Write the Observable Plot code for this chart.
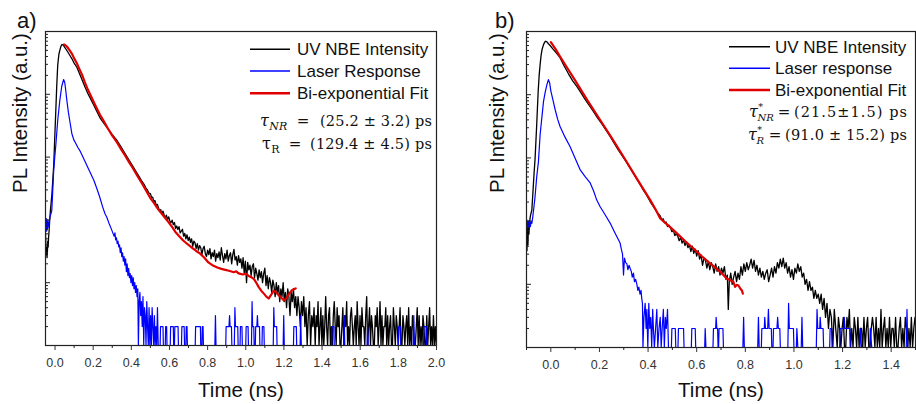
<!DOCTYPE html>
<html><head><meta charset="utf-8">
<script src="https://cdn.jsdelivr.net/npm/d3@7"></script>
<script src="https://cdn.jsdelivr.net/npm/@observablehq/plot@0.6"></script>
<style>
body{margin:0;background:#fff}
#wrap{position:relative;width:916px;height:404px;overflow:hidden;background:#fff}
.pan{position:absolute;top:0}
#ov{position:absolute;left:0;top:0;pointer-events:none}
</style></head>
<body><div id="wrap"><div id="pa" class="pan" style="left:0"></div><div id="pb" class="pan" style="left:460px"></div><svg id="ov" width="916" height="404"></svg></div>
<script>
// ---------- DATA (time in ns, PL counts) ----------
const uvA = [[-0.050,62],[-0.048,40],[-0.046,28],[-0.044,36],[-0.042,25],[-0.040,31],[-0.038,46],[-0.036,37],[-0.034,52],[-0.031,68],[-0.028,98],[-0.024,145],[-0.020,195],[-0.017,245],[-0.012,420],[-0.007,735],[-0.002,1840],[0.004,5500],[0.009,13800],[0.014,28800],[0.020,43000],[0.025,50000],[0.030,57000],[0.036,62000],[0.042,61000],[0.050,56500],[0.062,49800],[0.075,43000],[0.088,37100],[0.101,31000],[0.115,26700],[0.128,21500],[0.141,17200],[0.156,13300],[0.172,10300],[0.188,8300],[0.204,6630],[0.220,5300],[0.235,4270],[0.256,3450],[0.277,2850],[0.300,2280],[0.325,1840],[0.346,1450],[0.367,1140],[0.388,900],[0.409,708],[0.420,620],[0.432,540],[0.444,470],[0.456,409],[0.466,372],[0.476,325],[0.484,300],[0.492,268],
[0.500,262],[0.506,229],[0.512,231],[0.518,196],[0.524,203],[0.530,171],[0.536,177],[0.542,158],[0.548,139],[0.554,146],[0.560,125],[0.566,138],[0.572,121],[0.578,109],[0.584,119],[0.590,101],[0.596,112],[0.602,96],[0.608,90],[0.614,99],[0.620,84],[0.626,91],[0.632,73],[0.638,80],[0.644,70],[0.650,78],[0.656,62],[0.662,66],[0.668,71],[0.674,55],[0.680,61],[0.686,50],[0.692,58],[0.698,47],[0.704,53],[0.710,44],[0.716,50],[0.722,38],[0.728,46],[0.734,43],[0.740,35],[0.746,42],[0.752,33],[0.758,39],[0.764,36],[0.770,28],[0.776,35],[0.782,38],[0.788,29],[0.794,26],[0.800,33],[0.806,28],[0.812,35],[0.818,24],[0.824,30],[0.830,26],[0.836,33],[0.842,22],[0.848,29],[0.854,25],[0.860,31],[0.866,23],[0.872,36],[0.878,27],[0.884,21],[0.890,29],[0.896,24],[0.902,33],[0.908,22],[0.914,27],[0.920,30],[0.926,20],[0.932,28],[0.938,34],[0.944,23],[0.950,26],[0.956,19],[0.962,27],[0.968,21],[0.974,24],[0.980,17],[0.986,25],[0.992,14],[0.998,22],[1.004,10],[1.010,21],[1.016,16],[1.022,19],[1.028,13],[1.034,18],[1.040,20],[1.046,12],[1.052,17],[1.058,14],[1.064,11],[1.070,16],[1.076,12],[1.082,15],[1.088,10],[1.094,14],[1.100,17],[1.106,9],[1.112,13],[1.118,8],[1.124,12],[1.130,10],[1.136,7],[1.142,11],[1.148,9],[1.154,6],[1.160,10],[1.166,7],[1.172,9],[1.178,5],[1.184,8],[1.190,6],[1.196,10],[1.202,5],[1.208,7],[1.214,4],[1.220,8],[1.226,6],[1.232,3],[1.238,7],[1.244,5],[1.250,8],[1.256,4],[1.262,6],[1.268,3],[1.274,6],[1.280,4],[1.286,2],[1.292,5],[1.298,3],[1.304,6],[1.310,2],[1.316,4],[1.322,1],[1.328,3],[1.334,5],[1.340,1],[1.346,3],[1.352,2],[1.358,4],
[1.364,1],[1.369,3],[1.374,2],[1.379,5],[1.384,1],[1.389,2],[1.394,4],[1.399,1],[1.404,3],[1.409,1],[1.414,2],[1.419,6],[1.424,2],[1.429,1],[1.434,3],[1.439,4],[1.444,1],[1.449,2],[1.454,1],[1.459,3],[1.464,5],[1.469,2],[1.474,1],[1.479,4],[1.484,2],[1.489,3],[1.494,1],[1.499,1],[1.504,2],[1.509,4],[1.514,1],[1.519,3],[1.524,2],[1.529,5],[1.534,1],[1.539,2],[1.544,1],[1.549,3],[1.554,4],[1.559,2],[1.564,1],[1.569,2],[1.574,3],[1.579,1],[1.584,5],[1.589,2],[1.594,1],[1.599,3],[1.604,1],[1.609,4],[1.614,2],[1.619,2],[1.624,1],[1.629,3],[1.634,6],[1.639,1],[1.644,2],[1.649,4],[1.654,1],[1.659,3],[1.664,2],[1.669,1],[1.674,1],[1.679,3],[1.684,2],[1.689,4],[1.694,1],[1.699,2],[1.704,5],[1.709,1],[1.714,3],[1.719,1],[1.724,2],[1.729,2],[1.734,4],[1.739,1],[1.744,3],[1.749,1],[1.754,2],[1.759,3],[1.764,1],[1.769,1],[1.774,4],[1.779,2],[1.784,1],[1.789,3],[1.794,2],[1.799,1],[1.804,2],[1.809,4],[1.814,1],[1.819,1],[1.824,3],[1.829,2],[1.834,1],[1.839,2],[1.844,3],[1.849,1],[1.854,4],[1.859,1],[1.864,2],[1.869,1],[1.874,3],[1.879,2],[1.884,1],[1.889,1],[1.894,2],[1.899,4],[1.904,1],[1.909,3],[1.914,1],[1.919,2],[1.924,1],[1.929,3],[1.934,2],[1.939,1],[1.944,1],[1.949,3],[1.954,1],[1.959,2],[1.964,4],[1.969,1],[1.974,2],[1.979,1],[1.984,3],[1.989,1],[1.994,2],[1.999,1]];

const laserA = [[-0.050,95],[-0.048,70],[-0.046,105],[-0.044,66],[-0.042,92],[-0.040,72],[-0.038,100],[-0.036,80],[-0.034,90],[-0.032,76],[-0.030,96],[-0.027,110],[-0.024,118],[-0.020,130],[-0.017,141],[-0.012,294],[-0.007,612],[-0.002,950],[0.004,1530],[0.014,3830],[0.025,7960],[0.035,13300],[0.045,17200],[0.051,15400],[0.057,11000],[0.062,7960],[0.070,5200],[0.077,3830],[0.088,2380],[0.098,1900],[0.109,1650],[0.120,1420],[0.130,1270],[0.150,950],[0.172,683],[0.188,540],[0.204,424],[0.220,310],[0.235,227],[0.250,160],[0.262,125],[0.272,109],[0.285,85],[0.295,72],[0.304,61],
[0.310,55],[0.314,62],[0.318,48],[0.322,52],[0.326,42],[0.330,46],[0.334,37],[0.338,40],[0.342,30],[0.346,36],[0.350,26],[0.354,30],[0.358,22],[0.362,26],[0.366,19],[0.370,24],[0.374,15],[0.378,20],[0.382,13],[0.386,17],[0.390,12],[0.394,14],[0.398,10],[0.402,13],[0.406,9],[0.410,12],[0.414,8],[0.418,10],[0.422,7],[0.426,9],[0.430,6],[0.434,8],[0.437,1],[0.441,5],[0.445,7],[0.449,3],[0.453,5],[0.457,2],[0.461,6],[0.465,1],[0.469,4],[0.473,3],[0.477,1],[0.481,5],[0.485,2],[0.489,1],[0.493,4],[0.497,1],[0.501,3],[0.505,1],[0.509,4],[0.513,2],[0.517,1],[0.521,3],[0.525,1],[0.529,2],[0.533,1],[0.537,4],[0.541,1],
[0.551,1],[0.553,2],[0.566,2],[0.568,1],[0.578,1],[0.580,2],[0.585,2],[0.587,1],[0.604,1],[0.606,2],[0.620,2],[0.622,1],[0.626,1],[0.628,2],[0.645,2],[0.647,1],[0.663,1],[0.665,2],[0.677,2],[0.679,1],[0.686,1],[0.688,2],[0.692,2],[0.694,1],[0.735,1],[0.737,2],[0.762,2],[0.764,1],[0.770,1],[0.772,2],[0.776,2],[0.778,1],[0.838,1],[0.841,3],[0.844,1],[0.895,1],[0.897,2],[0.912,2],[0.915,3],[0.918,2],[0.925,2],[0.927,1],[0.940,1],[0.943,4],[0.946,2],[0.958,2],[0.960,1],[0.970,1],[0.972,2],[0.980,2],[0.982,1],[1.000,1],[1.002,2],[1.012,2],[1.014,1],[1.030,1],[1.033,5],[1.036,2],[1.042,2],[1.044,1],[1.050,1],[1.052,2],[1.058,2],[1.061,3],[1.064,2],[1.072,2],[1.074,1],[1.085,1],[1.087,2],[1.095,2],[1.097,1],[1.144,1],[1.147,4],[1.150,2],[1.162,2],[1.164,1],[1.196,1],[1.199,3],[1.202,1],[1.250,1],[1.252,2],[1.265,2],[1.267,1],[1.285,1],[1.288,3],[1.291,1],[1.450,1],[1.452,2],[1.462,2],[1.464,1],[1.513,1],[1.516,3],[1.519,1],[1.636,1],[1.639,2],[1.642,1],[1.800,1],[1.802,2],[1.812,2],[1.814,1],[1.878,1],[1.881,3],[1.884,1],[1.932,1],[1.934,2],[1.946,2],[1.948,1],[2.000,1]];

const fitA = [[0.047,62100],[0.055,60000],[0.062,57700],[0.075,51000],[0.088,44600],[0.101,37000],[0.115,30900],[0.128,25000],[0.141,20700],[0.156,15600],[0.172,11900],[0.188,9400],[0.204,7400],[0.220,5900],[0.235,4770],[0.256,3700],[0.277,2850],[0.300,2200],[0.325,1710],[0.346,1340],[0.367,1060],[0.388,830],[0.409,658],[0.432,500],[0.456,380],[0.477,295],[0.498,227],[0.520,183],[0.541,147],[0.565,120],[0.588,98],[0.610,80],[0.630,65],[0.651,55],[0.672,47],[0.695,41],[0.719,36],[0.740,32],[0.761,29],[0.783,25],[0.804,21],[0.825,19],[0.851,17.5],[0.872,16.6],[0.893,16],[0.912,15.5],[0.937,14.7],[0.950,15.2],[0.960,14.2],[0.972,13.8],[0.985,13.5],[1.000,13.9],[1.015,12.8],[1.030,12.2],[1.042,11.5],[1.055,10],[1.068,8.5],[1.082,7.4],[1.095,6.7],[1.108,6],[1.120,5.6],[1.130,6.2],[1.147,7.5],[1.160,7],[1.175,6.2],[1.190,5.6],[1.200,5.2],[1.212,5.6],[1.225,6.5],[1.240,7.5],[1.252,7.9],[1.262,8.1]];

const uvB = [[-0.100,55],[-0.098,34],[-0.096,80],[-0.094,42],[-0.092,96],[-0.090,62],[-0.087,100],[-0.084,120],[-0.081,135],[-0.078,150],[-0.073,310],[-0.069,560],[-0.065,930],[-0.058,3340],[-0.052,11200],[-0.048,20000],[-0.044,29900],[-0.040,42000],[-0.036,51800],[-0.030,62000],[-0.025,68000],[-0.021,70200],[-0.016,68500],[-0.010,64000],[-0.003,60000],[0.010,52000],[0.024,45000],[0.038,38600],[0.055,28500],[0.072,21600],[0.090,16500],[0.107,13500],[0.125,10600],[0.141,8400],[0.158,6800],[0.175,5430],[0.192,4300],[0.210,3450],[0.227,2750],[0.244,2180],[0.261,1700],[0.278,1330],[0.296,1050],[0.313,833],[0.330,650],[0.347,510],[0.364,400],[0.381,310],[0.395,255],[0.409,202],[0.422,170],[0.436,140],
[0.450,121],[0.456,106],[0.462,109],[0.468,94],[0.474,97],[0.480,82],[0.486,86],[0.492,79],[0.498,68],[0.504,72],[0.510,59],[0.516,63],[0.522,58],[0.528,49],[0.534,55],[0.540,45],[0.546,50],[0.552,41],[0.558,47],[0.564,38],[0.570,42],[0.576,33],[0.582,40],[0.588,31],[0.594,36],[0.600,28],[0.606,34],[0.612,25],[0.618,29],[0.624,20],[0.630,26],[0.636,24],[0.642,18],[0.648,23],[0.654,17],[0.660,22],[0.666,19],[0.672,15],[0.678,21],[0.684,16],[0.690,19],[0.696,14],[0.702,18],[0.708,15],[0.714,19],[0.720,12],[0.726,14],[0.730,4],[0.734,11],[0.740,15],[0.746,10],[0.752,13],[0.758,16],[0.764,11],[0.770,15],[0.776,12],[0.782,19],[0.788,14],[0.794,21],[0.800,16],[0.806,22],[0.812,17],[0.818,20],[0.824,25],[0.830,18],[0.836,24],[0.842,16],[0.848,20],[0.854,14],[0.860,18],[0.866,13],[0.872,16],[0.878,12],[0.884,15],[0.890,17],[0.896,11],[0.902,14],[0.908,18],[0.914,13],[0.920,19],[0.926,15],[0.932,22],[0.938,18],[0.944,25],[0.950,19],[0.956,26],[0.962,18],[0.968,22],[0.974,15],[0.980,19],[0.986,13],[0.992,17],[0.998,12],[1.004,18],[1.010,15],[1.016,21],[1.022,16],[1.028,19],[1.034,13],[1.040,15],[1.046,10],[1.052,12],[1.058,8],[1.064,11],[1.070,8],[1.076,9],[1.082,6],[1.088,8],[1.094,6],[1.100,7],[1.106,5],[1.112,7],[1.118,4],[1.124,6],[1.130,3],[1.136,5],[1.142,2],[1.148,4],[1.154,3],[1.160,1],[1.166,4],[1.172,2],
[1.178,1],[1.183,3],[1.188,2],[1.193,1],[1.198,2],[1.203,3],[1.208,1],[1.213,1],[1.218,3],[1.223,2],[1.228,4],[1.233,1],[1.238,2],[1.243,1],[1.248,3],[1.253,2],[1.258,1],[1.263,3],[1.268,1],[1.273,2],[1.278,2],[1.283,1],[1.288,3],[1.293,1],[1.298,2],[1.303,3],[1.308,1],[1.313,1],[1.318,2],[1.323,3],[1.328,2],[1.333,1],[1.338,3],[1.343,1],[1.348,2],[1.353,1],[1.358,4],[1.363,1],[1.368,2],[1.373,3],[1.378,1],[1.383,2],[1.388,1],[1.393,3],[1.398,1],[1.403,2],[1.408,2],[1.413,1],[1.418,3],[1.423,1],[1.428,1],[1.433,2],[1.438,3],[1.443,1],[1.448,2],[1.453,1],[1.458,3],[1.463,2],[1.468,1],[1.473,2],[1.478,1],[1.483,3],[1.488,1],[1.493,2],[1.498,3]];

const laserB = [[-0.100,90],[-0.098,104],[-0.096,78],[-0.094,98],[-0.092,80],[-0.090,102],[-0.088,77],[-0.086,96],[-0.084,82],[-0.081,100],[-0.078,92],[-0.074,118],[-0.070,160],[-0.065,240],[-0.058,500],[-0.051,865],[-0.044,2320],[-0.037,4300],[-0.030,7830],[-0.023,11000],[-0.016,14400],[-0.010,17300],[-0.005,15500],[0.000,11500],[0.008,8500],[0.018,5780],[0.028,4100],[0.038,3140],[0.058,2150],[0.079,1510],[0.100,990],[0.121,645],[0.142,500],[0.162,401],[0.176,300],[0.189,215],[0.203,169],[0.224,125],[0.244,93],[0.264,65],
[0.285,45],[0.290,36],[0.295,30],[0.299,14],[0.303,26],[0.308,22],[0.313,21],[0.317,17],[0.322,20],[0.326,18],[0.331,16],[0.335,13],[0.340,15],[0.344,11],[0.349,12],[0.354,10],[0.358,8],[0.362,9],[0.367,7],[0.371,8],[0.374,6],[0.377,5],[0.379,1],[0.383,3],[0.388,5],[0.392,2],[0.395,4],[0.399,1],[0.403,5],[0.407,2],[0.411,3],[0.415,1],[0.419,4],[0.422,2],[0.426,1],[0.431,2],[0.436,4],[0.440,1],[0.445,2],[0.450,3],[0.454,1],[0.458,2],[0.463,4],[0.467,1],[0.471,3],[0.475,2],[0.480,4],[0.484,1],[0.491,1],
[0.496,1],[0.498,2],[0.512,2],[0.514,1],[0.523,1],[0.525,2],[0.546,2],[0.548,1],[0.578,1],[0.580,2],[0.594,2],[0.596,1],[0.633,1],[0.635,2],[0.638,1],[0.667,1],[0.669,2],[0.678,2],[0.680,3],[0.683,2],[0.686,2],[0.688,1],[0.690,1],[0.692,2],[0.708,2],[0.710,1],[0.790,1],[0.793,3],[0.796,1],[0.851,1],[0.854,3],[0.857,1],[0.866,1],[0.868,2],[0.878,2],[0.880,3],[0.883,2],[0.892,2],[0.895,4],[0.898,2],[0.907,2],[0.909,1],[0.914,1],[0.916,2],[0.930,2],[0.933,3],[0.936,2],[0.942,2],[0.944,1],[0.975,1],[0.978,5],[0.981,2],[0.998,2],[1.000,1],[1.010,1],[1.012,2],[1.016,1],[1.030,1],[1.033,3],[1.036,1],[1.092,1],[1.095,4],[1.098,2],[1.106,2],[1.108,3],[1.111,2],[1.120,2],[1.122,1],[1.147,1],[1.149,2],[1.155,2],[1.157,1],[1.188,1],[1.190,2],[1.205,2],[1.207,3],[1.210,2],[1.230,2],[1.232,1],[1.271,1],[1.273,2],[1.278,1],[1.312,1],[1.314,2],[1.320,1],[1.462,1],[1.465,4],[1.468,1],[1.500,1]];

const fitB = [[0.000,67600],[0.019,53000],[0.038,40100],[0.069,26000],[0.100,16900],[0.150,8200],[0.203,3980],[0.255,1940],[0.306,943],[0.357,450],[0.409,215],[0.430,155],[0.450,110],[0.485,84],[0.519,63.8],[0.553,48],[0.587,36.8],[0.620,28],[0.656,21.3],[0.677,18.3],[0.697,15.7],[0.710,14],[0.724,12.3],[0.738,11.6],[0.751,10.9],[0.758,9.1],[0.765,9.8],[0.772,9.6],[0.779,8.6],[0.786,8.0],[0.790,7.1]];

// tick values
const xMajorA = [0,0.2,0.4,0.6,0.8,1.0,1.2,1.4,1.6,1.8,2.0];
const xMinorA = [0.1,0.3,0.5,0.7,0.9,1.1,1.3,1.5,1.7,1.9];
const xMajorB = [0,0.2,0.4,0.6,0.8,1.0,1.2,1.4];
const xMinorB = [-0.1,0.1,0.3,0.5,0.7,0.9,1.1,1.3,1.5];
const yMajor = [10,100,1000,10000];
const yMinor = [2,3,4,5,6,7,8,9,20,30,40,50,60,70,80,90,200,300,400,500,600,700,800,900,2000,3000,4000,5000,6000,7000,8000,9000,20000,30000,40000,50000,60000,70000,80000,90000];

const xLabel = "Time (ns)";
const yLabel = "PL Intensity (a.u.)";
const legendA = ["UV NBE Intensity","Laser Response","Bi-exponential Fit"];
const legendB = ["UV NBE Intensity","Laser response","Bi-exponential Fit"];
const colors = ["#000000","#0000ff","#e00000"];

const SANS = '"Liberation Sans", Arial, Helvetica, sans-serif';

function panel({width, mL, mR, mB, xDomain, xMajor, xMinor, uv, laser, fit, yLabDx, yLabDy, xLabDy}) {
  const mT = 31, height = 404;
  const innerW = width - mL - mR, innerH = height - mT - mB;
  return Plot.plot({
    width, height, marginLeft: mL, marginRight: mR, marginTop: mT, marginBottom: mB,
    style: {fontFamily: SANS, fontSize: "12.5px", color: "#222", background: "transparent"},
    x: {domain: xDomain, axis: null},
    y: {type: "log", domain: [1, 1e5], axis: null},
    marks: [
      Plot.line(uv, {x: d => d[0], y: d => d[1], stroke: colors[0], strokeWidth: 1.3, clip: true}),
      Plot.line(laser, {x: d => d[0], y: d => d[1], stroke: colors[1], strokeWidth: 1.2, clip: true}),
      Plot.line(fit, {x: d => d[0], y: d => d[1], stroke: colors[2], strokeWidth: 2.2, clip: true}),
      Plot.frame({stroke: "#222", strokeWidth: 1.2}),
      Plot.tickY(yMajor, {y: d => d, insetRight: innerW - 5, stroke: "#222", strokeWidth: 1}),
      Plot.tickY(yMinor, {y: d => d, insetRight: innerW - 3, stroke: "#222", strokeWidth: 1}),
      Plot.axisX(xMajor, {tickSize: 5, tickPadding: 8, tickFormat: d => d.toFixed(1), fontSize: 12.5, label: null, color: "#333"}),
      Plot.tickX(xMinor, {x: d => d, insetTop: innerH, insetBottom: -3, stroke: "#222", strokeWidth: 1}),
      Plot.text([xLabel], {text: d => d, frameAnchor: "bottom", dy: xLabDy, fontSize: 20.5, lineAnchor: "middle", fill: "#111"}),
      Plot.text([yLabel], {text: d => d, frameAnchor: "left", rotate: -90, dx: yLabDx, dy: yLabDy, fontSize: 20.5, lineAnchor: "middle", fill: "#111"})
    ]
  });
}

document.getElementById("pa").append(panel({width: 460, mL: 45, mR: 24, mB: 59, xDomain: [-0.05, 2.0], xMajor: xMajorA, xMinor: xMinorA, uv: uvA, laser: laserA, fit: fitA, yLabDx: -25, yLabDy: 4.5, xLabDy: 45.3}));
document.getElementById("pb").append(panel({width: 456, mL: 66, mR: 1, mB: 57, xDomain: [-0.1, 1.5], xMajor: xMajorB, xMinor: xMinorB, uv: uvB, laser: laserB, fit: fitB, yLabDx: -29.3, yLabDy: 3.5, xLabDy: 43.3}));

// ---------- overlay: panel letters, legends, annotations ----------
const ov = d3.select("#ov");
function txt(x, y, s, o = {}) {
  return ov.append("text").attr("x", x).attr("y", y).text(s)
    .attr("font-size", o.size || 17).attr("font-family", o.family || SANS)
    .attr("font-style", o.style || "normal").attr("text-anchor", o.anchor || "start")
    .attr("fill", o.fill || "#111");
}
txt(17, 28, "a)", {size: 22});
txt(495, 28, "b)", {size: 22});

function legend(labels, x1, x2, tx, lineYs, baseYs) {
  labels.forEach((lab, i) => {
    ov.append("line").attr("x1", x1).attr("x2", x2).attr("y1", lineYs[i]).attr("y2", lineYs[i])
      .attr("stroke", colors[i]).attr("stroke-width", i === 2 ? 2.6 : 1.6);
    txt(tx, baseYs[i], lab, {size: 17});
  });
}
legend(legendA, 250, 290, 297, [49.3, 71, 93.3], [55, 76.7, 99]);
legend(legendB, 729, 770, 775, [46.7, 68.3, 90], [52.7, 74.3, 96]);

const SERIF = '"DejaVu Serif", "Liberation Serif", serif';
function tauLine({x, y, italic, sup, sub, eqX, valX, valW, val}) {
  const t = ov.append("text").attr("x", x).attr("y", y).attr("font-family", SERIF).attr("fill", "#111");
  t.append("tspan").text("τ").attr("font-size", 16).attr("font-style", italic ? "italic" : "normal");
  if (sup) t.append("tspan").text("*").attr("font-size", 9.5).attr("dy", -7).attr("dx", 0.5);
  t.append("tspan").text(sub).attr("font-size", sup ? 10 : 11).attr("font-style", italic ? "italic" : "normal")
    .attr("dy", sup ? 11 : 4).attr("dx", sup ? -5.5 : 0.5);
  ov.append("text").attr("x", eqX).attr("y", y).attr("text-anchor", "middle").attr("font-family", SERIF)
    .attr("font-size", 15).attr("fill", "#111").text("=");
  ov.append("text").attr("x", valX).attr("y", y).attr("font-family", SERIF).attr("font-size", 14.5)
    .attr("fill", "#111").attr("textLength", valW).attr("lengthAdjust", "spacing").text(val);
}
tauLine({x: 260, y: 126, italic: true, sup: false, sub: "NR", eqX: 303, valX: 320, valW: 112, val: "(25.2 ± 3.2) ps"});
tauLine({x: 262, y: 149, italic: false, sup: false, sub: "R", eqX: 295, valX: 310, valW: 122, val: "(129.4 ± 4.5) ps"});
tauLine({x: 749, y: 117, italic: true, sup: true, sub: "NR", eqX: 784, valX: 794, valW: 113, val: "(21.5±1.5) ps"});
tauLine({x: 748, y: 140, italic: true, sup: true, sub: "R", eqX: 775, valX: 785, valW: 122, val: "(91.0 ± 15.2) ps"});
</script>
</body></html>
